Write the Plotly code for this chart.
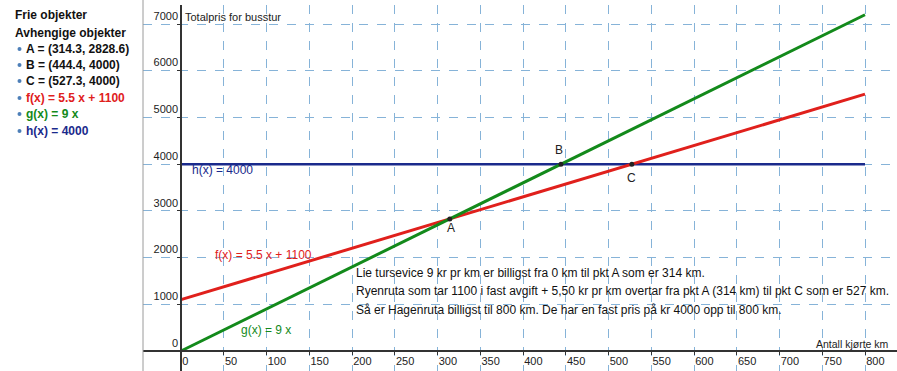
import plotly.graph_objects as go

# ---- data ----
line_x = [0, 800]
f_y = [1100, 5500]      # f(x) = 5.5x + 1100
g_y = [0, 7200]         # g(x) = 9x
h_y = [4000, 4000]      # h(x) = 4000
pts_name = ["A", "B", "C"]
pts_x = [314.3, 444.4, 527.3]
pts_y = [2828.6, 4000, 4000]
x_ticks = list(range(0, 801, 50))
y_ticks = list(range(0, 7001, 1000))
algebra_lines = [
    ("Frie objekter", "#111111", False),
    ("Avhengige objekter", "#111111", False),
    ("A = (314.3, 2828.6)", "#111111", True),
    ("B = (444.4, 4000)", "#111111", True),
    ("C = (527.3, 4000)", "#111111", True),
    ("f(x) = 5.5 x + 1100", "#e0201c", True),
    ("g(x) = 9 x", "#138a1b", True),
    ("h(x) = 4000", "#1a2a8c", True),
]
algebra_y = [15, 33, 49, 65, 81, 98, 114, 131]
info_lines = [
    "Lie tursevice 9 kr pr km er billigst fra 0 km til pkt A som er 314 km.",
    "Ryenruta som tar 1100 i fast avgift + 5,50 kr pr km overtar fra pkt A (314 km) til pkt C som er 527 km.",
    "Så er Hagenruta billigst til 800 km. De har en fast pris på kr 4000 opp til 800 km.",
]

W, H = 897, 371
L, T = 143, 5
px_per_x = 0.855
px_per_y = 0.0467
x0_px, y0_px = 181, 351
xmin = (L - x0_px) / px_per_x
xmax = (W - x0_px) / px_per_x
ymax = (y0_px - T) / px_per_y
ymin = (y0_px - H) / px_per_y

RED, GREEN, NAVY = "#e0201c", "#138a1b", "#1a2a8c"
GRID = "#86b3d8"
FONT = "Liberation Sans, Arial, sans-serif"

fig = go.Figure()
fig.add_trace(go.Scatter(x=line_x, y=h_y, mode="lines", line=dict(color=NAVY, width=2.5), hoverinfo="skip"))
fig.add_trace(go.Scatter(x=line_x, y=f_y, mode="lines", line=dict(color=RED, width=3), hoverinfo="skip"))
fig.add_trace(go.Scatter(x=line_x, y=g_y, mode="lines", line=dict(color=GREEN, width=3), hoverinfo="skip"))
fig.add_trace(go.Scatter(x=pts_x, y=pts_y, mode="markers", marker=dict(color="#222222", size=5), hoverinfo="skip"))

def px2x(p):
    return (p - x0_px) / px_per_x

def py2y(p):
    return (y0_px - p) / px_per_y

ann = []
shapes = [dict(type="line", xref="paper", yref="paper", x0=0, x1=0, y0=0, y1=1.02,
               line=dict(color="#9a9a9a", width=1))]
# point labels
for name, dx, dy in zip(pts_name, [451, 559, 631], [228, 150, 178]):
    ann.append(dict(x=px2x(dx), y=py2y(dy), text=name, showarrow=False,
                    font=dict(family=FONT, size=12, color="#222222")))
# function labels
ann.append(dict(x=px2x(190), y=py2y(170), text="h(x) = 4000", xanchor="left", showarrow=False,
                font=dict(family=FONT, size=12, color=NAVY)))
ann.append(dict(x=px2x(213), y=py2y(255), text="f(x) = 5.5 x + 1100", xanchor="left", showarrow=False,
                font=dict(family=FONT, size=12, color=RED)))
ann.append(dict(x=px2x(239), y=py2y(330), text="g(x) = 9 x", xanchor="left", showarrow=False,
                font=dict(family=FONT, size=12, color=GREEN)))
# axis titles
ann.append(dict(x=px2x(183), y=py2y(17), text="Totalpris for busstur", xanchor="left", showarrow=False,
                font=dict(family=FONT, size=11, color="#222222")))
ann.append(dict(x=px2x(814), y=py2y(344), text="Antall kjørte km", xanchor="left", showarrow=False,
                font=dict(family=FONT, size=10.5, color="#222222")))
# info text
for t, yp in zip(info_lines, [273, 291, 310]):
    ann.append(dict(x=px2x(354), y=py2y(yp), text=t, xanchor="left", showarrow=False,
                    font=dict(family=FONT, size=12, color="#111111")))
# algebra panel
pw = W - L
ph = H - T
for (t, c, bullet), yp in zip(algebra_lines, algebra_y):
    xs = 24 if bullet else 13
    ann.append(dict(xref="paper", yref="paper", x=(xs - L) / pw, y=(H - yp) / ph, text=t,
                    xanchor="left", yanchor="middle", showarrow=False,
                    font=dict(family=FONT, size=12, color=c, weight="bold")))
    if bullet:
        shapes.append(dict(type="circle", xref="paper", yref="paper",
                           x0=(17.5 - L) / pw, x1=(21.5 - L) / pw,
                           y0=(H - yp - 2) / ph, y1=(H - yp + 2) / ph,
                           fillcolor="#4d7fb8", line=dict(width=0)))

fig.update_layout(
    width=W, height=H,
    margin=dict(l=L, r=0, t=T, b=0),
    paper_bgcolor="white", plot_bgcolor="white",
    showlegend=False,
    annotations=ann,
    shapes=shapes,
    xaxis=dict(range=[xmin, xmax], tickvals=x_ticks, ticktext=[str(v) for v in x_ticks],
               showgrid=True, gridcolor=GRID, griddash="dash", gridwidth=1,
               zeroline=False, showline=True, linecolor="#333333", linewidth=1.5,
               anchor="free", position=(0 - ymin) / (ymax - ymin),
               ticks="outside", ticklen=3, tickcolor="#333333",
               ticklabelposition="outside right",
               tickfont=dict(family=FONT, size=11, color="#222222")),
    yaxis=dict(range=[ymin, ymax], tickvals=y_ticks, ticktext=[str(v) for v in y_ticks],
               showgrid=True, gridcolor=GRID, griddash="dash", gridwidth=1,
               zeroline=False, showline=True, linecolor="#333333", linewidth=1.5,
               anchor="free", position=(0 - xmin) / (xmax - xmin),
               ticks="outside", ticklen=3, tickcolor="#333333",
               ticklabelposition="outside top",
               tickfont=dict(family=FONT, size=11, color="#222222")),
)
fig.write_html("out.html", config={"displayModeBar": False},
               post_script=["document.body.style.margin='0px';document.body.style.overflow='hidden';"])
